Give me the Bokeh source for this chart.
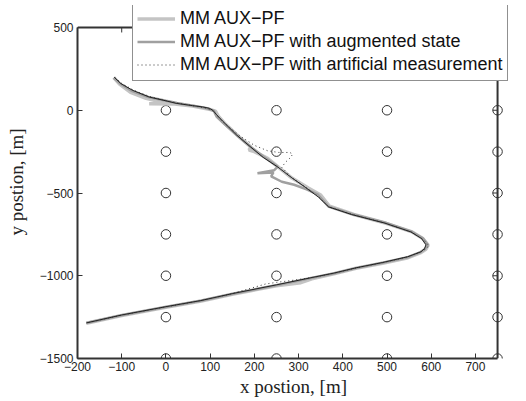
from bokeh.plotting import figure
from bokeh.models import Range1d, Legend, LegendItem, FixedTicker
from bokeh.embed import file_html
from bokeh.resources import INLINE

# ---------------- data ----------------
grid_x = [0, 250, 500, 750]
grid_y = [0, -250, -500, -750, -1000, -1250, -1500]

x_ticks = [-200, -100, 0, 100, 200, 300, 400, 500, 600, 700]
y_ticks = [-1500, -1000, -500, 0, 500]
x_lim = [-200, 750]
y_lim = [-1500, 500]

true_x = [-117, -102, -75, -38, 0, 23, 60, 83, 98, 106, 114, 128, 160, 192, 220, 253, 283, 315, 345, 368,
          420, 494, 554, 578, 588, 585, 577, 547, 490, 430, 380, 328, 250, 150, 79, 0, -100, -180]
true_y = [200, 161, 120, 80, 57, 42, 28, 20, 12, 0, -25, -65, -150, -223, -285, -343, -405, -465, -525, -584,
          -630, -681, -735, -775, -813, -835, -855, -885, -920, -952, -984, -1012, -1055, -1108, -1150, -1187, -1237, -1285]

pf_x = [-118, -105, -80, -45, -10, 20, -38, 20, 60, 95, 112, 118, 135, 165, 192, 188, 200, 230, 255, 285, 322,
        350, 370, 425, 498, 555, 580, 593, 588, 575, 545, 490, 430, 380, 330, 305, 250, 150, 80, 0, -100, -180]
pf_y = [198, 158, 108, 72, 50, 42, 40, 38, 25, 8, -5, -35, -85, -160, -222, -240, -250, -290, -345, -410, -470,
        -512, -580, -630, -683, -733, -773, -815, -840, -862, -893, -925, -955, -988, -1018, -1042, -1060, -1112, -1153, -1190, -1240, -1287]

aug_x = [-118, -104, -78, -40, 0, 25, 62, 90, 108, 115, 130, 160, 192, 222, 253, 245, 207, 243, 238, 262, 290,
         318, 343, 368, 422, 496, 556, 582, 592, 586, 576, 547, 490, 430, 380, 328, 250, 150, 79, 0, -100, -180]
aug_y = [196, 162, 118, 80, 57, 44, 27, 14, -2, -40, -78, -150, -222, -283, -341, -362, -381, -376, -400, -432, -450,
         -478, -508, -582, -628, -680, -734, -776, -812, -838, -857, -888, -922, -954, -986, -1014, -1057, -1110, -1151, -1189, -1239, -1286]

art_x = [-115, -100, -72, -36, 0, 25, 60, 92, 107, 118, 140, 170, 200, 230, 255, 280, 287, 280, 270, 262, 285, 318,
         345, 368, 422, 495, 555, 582, 595, 586, 576, 546, 490, 430, 380, 328, 280, 250, 225, 150, 79, 0, -100, -180]
art_y = [196, 162, 120, 82, 58, 44, 28, 12, -5, -40, -95, -160, -212, -245, -255, -255, -265, -290, -315, -345, -408, -468,
         -522, -583, -630, -682, -736, -780, -820, -840, -856, -886, -921, -953, -985, -1012, -1030, -1040, -1050, -1108, -1150, -1188, -1238, -1286]

labels = ["MM AUX\u2212PF", "MM AUX\u2212PF with augmented state", "MM AUX\u2212PF with artificial measurement"]

# ---------------- figure ----------------
# the frame is a little larger than the axes box so that the legend may overhang the box (as in the reference)
p = figure(width=526, height=401, output_backend="svg", toolbar_location=None,
           x_range=Range1d(-200, 777), y_range=Range1d(-1500, 633),
           min_border_left=77, min_border_right=17, min_border_top=5, min_border_bottom=43)
p.background_fill_color = "white"
p.border_fill_color = "white"
p.grid.visible = False
p.outline_line_color = None

for ax in (p.xaxis[0], p.yaxis[0]):
    ax.axis_line_color = "#333333"
    ax.axis_line_width = 2
    ax.major_tick_in = 5
    ax.major_tick_out = 0
    ax.minor_tick_line_color = None
    ax.major_tick_line_color = "#333333"
    ax.major_label_text_font = "Liberation Sans"
    ax.major_label_text_font_size = "12px"
    ax.major_label_text_color = "#222222"
    ax.axis_label_text_font = "Liberation Serif"
    ax.axis_label_text_font_size = "19px"
    ax.axis_label_text_font_style = "normal"
    ax.axis_label_text_color = "#222222"

p.xaxis.bounds = tuple(x_lim)
p.yaxis.bounds = tuple(y_lim)
p.xaxis.ticker = FixedTicker(ticks=x_ticks)
p.yaxis.ticker = FixedTicker(ticks=y_ticks)
p.xaxis.major_label_overrides = {t: str(t).replace("-", "\u2212") for t in x_ticks}
p.yaxis.major_label_overrides = {t: str(t).replace("-", "\u2212") for t in y_ticks}
p.xaxis.axis_label = "x postion, [m]"
p.yaxis.axis_label = "y postion, [m]"
p.xaxis.major_label_standoff = 3
p.yaxis.major_label_standoff = 4
p.xaxis.axis_label_standoff = 2
p.yaxis.axis_label_standoff = 10

# top and right edges of the axes box, with inward ticks
p.segment(x0=[x_lim[0], x_lim[1]], y0=[y_lim[1], y_lim[0]], x1=[x_lim[1], x_lim[1]], y1=[y_lim[1], y_lim[1]],
          line_color="#333333", line_width=2)
p.segment(x0=x_ticks, y0=[y_lim[1]] * len(x_ticks), x1=x_ticks, y1=[y_lim[1] - 30] * len(x_ticks),
          line_color="#333333", line_width=1)
p.segment(x0=[x_lim[1]] * len(y_ticks), y0=y_ticks, x1=[x_lim[1] - 11] * len(y_ticks), y1=y_ticks,
          line_color="#333333", line_width=1)

# grid of circles (sensors)
gx = [x for y in grid_y for x in grid_x]
gy = [y for y in grid_y for x in grid_x]
p.scatter(gx, gy, marker="circle", size=9.5, fill_color=None, line_color="#333333", line_width=1)

r_pf = p.line(pf_x, pf_y, line_color="#c4c4c4", line_width=3.5)
r_aug = p.line(aug_x, aug_y, line_color="#a0a0a0", line_width=2.5)
p.line(true_x, true_y, line_color="#111111", line_width=0.9)
r_art = p.line(art_x, art_y, line_color="#333333", line_width=1, line_dash="1 3")

legend = Legend(items=[LegendItem(label=labels[0], renderers=[r_pf]),
                       LegendItem(label=labels[1], renderers=[r_aug]),
                       LegendItem(label=labels[2], renderers=[r_art])],
                location=(55, 277))
legend.label_text_font = "Liberation Sans"
legend.label_text_font_size = "18px"
legend.label_text_color = "#111111"
legend.glyph_width = 38
legend.glyph_height = 23
legend.label_height = 23
legend.label_standoff = 5
legend.spacing = 0
legend.padding = 4
legend.margin = 0
legend.border_line_color = "#222222"
legend.border_line_width = 1
legend.background_fill_alpha = 1
p.add_layout(legend)

open("out.html", "w").write(file_html(p, INLINE))
